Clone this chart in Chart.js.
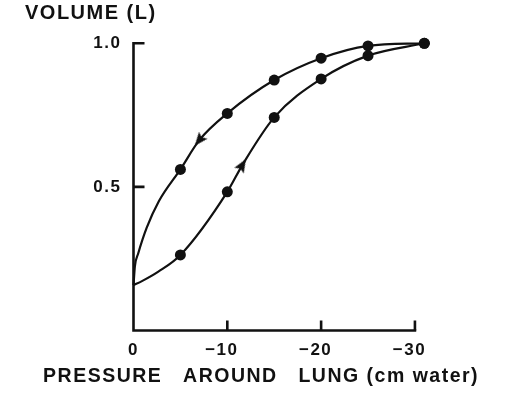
<!DOCTYPE html>
<html>
<head>
<meta charset="utf-8">
<script src="https://cdn.jsdelivr.net/npm/chart.js@4/dist/chart.umd.min.js"></script>
<style>
  html, body { margin: 0; padding: 0; background: #fff; }
</style>
</head>
<body>
<canvas id="c" width="511" height="398"></canvas>
<script>
// ---- data ----
// Inflation limb (lower curve), marked measurements
const inflationPressure = [-5, -10, -15, -20, -25, -31];
const inflationVolume   = [0.263, 0.483, 0.742, 0.876, 0.957, 1.0];
// Deflation limb (upper curve), marked measurements
const deflationPressure = [-31, -25, -20, -15, -10, -5];
const deflationVolume   = [1.0, 0.991, 0.948, 0.872, 0.756, 0.561];
// unmarked points read along the curves near the origin
const inflationTracePressure = [0, -0.9, -2.65];
const inflationTraceVolume   = [0.158, 0.172, 0.205];
const deflationTracePressure = [-2.7, -1.4, -0.5, -0.15, 0];
const deflationTraceVolume   = [0.45, 0.357, 0.268, 0.224, 0.158];
// direction arrows on the curves: [deflation, inflation]
const arrowPressure = [-7, -11.6];
const arrowVolume   = [0.662, 0.576];
const arrowAngle    = [219, 31];
// axes
const xTickValues = [0, -10, -20, -30];
const yTickValues = [0.5, 1.0];
const xAxisTitle = 'PRESSURE   AROUND   LUNG (cm water)  ';
const yAxisTitle = 'VOLUME (L)';

const toPts = (px, vy) => px.map((p, i) => ({x: p, y: vy[i]}));
const INK = '#111';
const FONT = '"Liberation Sans", Arial, Helvetica, sans-serif';

// the curve of each limb runs through its trace points, its markers and its arrow
const inflationCurve = toPts(inflationTracePressure, inflationTraceVolume)
  .concat(toPts(inflationPressure, inflationVolume), [{x: arrowPressure[1], y: arrowVolume[1]}])
  .sort((a, b) => b.x - a.x);
const deflationCurve = toPts(deflationPressure, deflationVolume)
  .concat(toPts(deflationTracePressure, deflationTraceVolume), [{x: arrowPressure[0], y: arrowVolume[0]}])
  .sort((a, b) => a.x - b.x);

// arrowhead glyph (points up; rotated per point by Chart.js)
const arrowHead = document.createElement('canvas');
arrowHead.width = 15; arrowHead.height = 15;
(() => {
  const g = arrowHead.getContext('2d');
  g.fillStyle = INK;
  g.beginPath();
  g.moveTo(7.5, 0.5); g.lineTo(13, 14); g.lineTo(7.5, 11.5); g.lineTo(2, 14);
  g.closePath(); g.fill();
})();

const inkPlugin = {
  id: 'ink',
  beforeDraw(chart) {
    chart.ctx.letterSpacing = '1.5px';
  },
  afterDatasetsDraw(chart) {
    const {ctx, scales: {x, y}} = chart;
    ctx.save();
    ctx.strokeStyle = INK;
    ctx.lineWidth = 2.6;
    ctx.lineCap = 'butt';
    const x0 = x.getPixelForValue(0), y0 = y.getPixelForValue(0);
    const xEnd = x.getPixelForValue(xTickValues[xTickValues.length - 1]);
    const yEnd = y.getPixelForValue(yTickValues[yTickValues.length - 1]);
    ctx.beginPath();
    ctx.moveTo(x0, yEnd - 1.3);
    ctx.lineTo(x0, y0);
    ctx.lineTo(xEnd + 1.3, y0);
    ctx.stroke();
    // inward tick marks
    ctx.beginPath();
    yTickValues.forEach(v => {
      const py = y.getPixelForValue(v);
      ctx.moveTo(x0, py); ctx.lineTo(x0 + 11, py);
    });
    xTickValues.filter(v => v !== 0).forEach(v => {
      const px = x.getPixelForValue(v);
      ctx.moveTo(px, y0); ctx.lineTo(px, y0 - 10);
    });
    ctx.stroke();
    ctx.restore();
  }
};

const curveStyle = {
  showLine: true, cubicInterpolationMode: 'monotone', borderColor: INK, borderWidth: 2.2,
  pointRadius: 0, clip: false
};
const dotStyle = {
  pointRadius: 5.5, backgroundColor: INK, borderColor: INK, borderWidth: 0, clip: false
};

new Chart(document.getElementById('c'), {
  type: 'scatter',
  data: {
    datasets: [
      Object.assign({ data: inflationCurve }, curveStyle),
      Object.assign({ data: deflationCurve }, curveStyle),
      Object.assign({ data: toPts(inflationPressure, inflationVolume) }, dotStyle),
      Object.assign({ data: toPts(deflationPressure, deflationVolume) }, dotStyle),
      {
        data: toPts(arrowPressure, arrowVolume),
        pointStyle: arrowHead, pointRotation: arrowAngle, pointRadius: 7,
        backgroundColor: INK, borderColor: INK, borderWidth: 0, clip: false
      }
    ]
  },
  options: {
    responsive: false,
    animation: false,
    events: [],
    layout: { padding: { left: 25, right: 0, top: 0, bottom: 0 } },
    plugins: {
      legend: { display: false },
      tooltip: { enabled: false },
      title: {
        display: true, text: yAxisTitle, align: 'start', position: 'top',
        color: INK, font: { family: FONT, size: 20, weight: 'bold', lineHeight: 1.2 },
        padding: { top: 1.5, bottom: 17.8 }
      },
      subtitle: {
        display: true, text: xAxisTitle, align: 'center', position: 'bottom',
        color: INK, font: { family: FONT, size: 19.5, weight: 'bold', lineHeight: 1.2 },
        padding: { top: 0, bottom: 9.6 }
      }
    },
    scales: {
      x: {
        type: 'linear', reverse: true, min: -31.5, max: 0,
        afterBuildTicks: s => { s.ticks = xTickValues.map(v => ({value: v})); },
        afterFit: s => { s.height = 34.5; },
        grid: { display: false, drawTicks: false, tickLength: 0 },
        border: { display: false },
        ticks: {
          color: INK, padding: 10, maxRotation: 0, autoSkip: false,
          font: { family: FONT, size: 17, weight: 'bold' },
          callback: v => v === 0 ? '0' : '\u2212' + Math.abs(v) + '\u2007'
        }
      },
      y: {
        type: 'linear', min: 0, max: 1,
        afterBuildTicks: s => { s.ticks = yTickValues.map(v => ({value: v})); },
        afterFit: s => { s.width = 108.5; },
        grid: { display: false, drawTicks: false, tickLength: 0 },
        border: { display: false },
        ticks: {
          color: INK, padding: 12, autoSkip: false,
          font: { family: FONT, size: 17, weight: 'bold' },
          callback: v => v.toFixed(1)
        }
      },
      yr: {
        type: 'linear', position: 'right', display: true,
        afterFit: s => { s.width = 82; },
        grid: { display: false, drawTicks: false, tickLength: 0 },
        border: { display: false },
        ticks: { display: false }
      }
    }
  },
  plugins: [inkPlugin]
});
</script>
</body>
</html>
